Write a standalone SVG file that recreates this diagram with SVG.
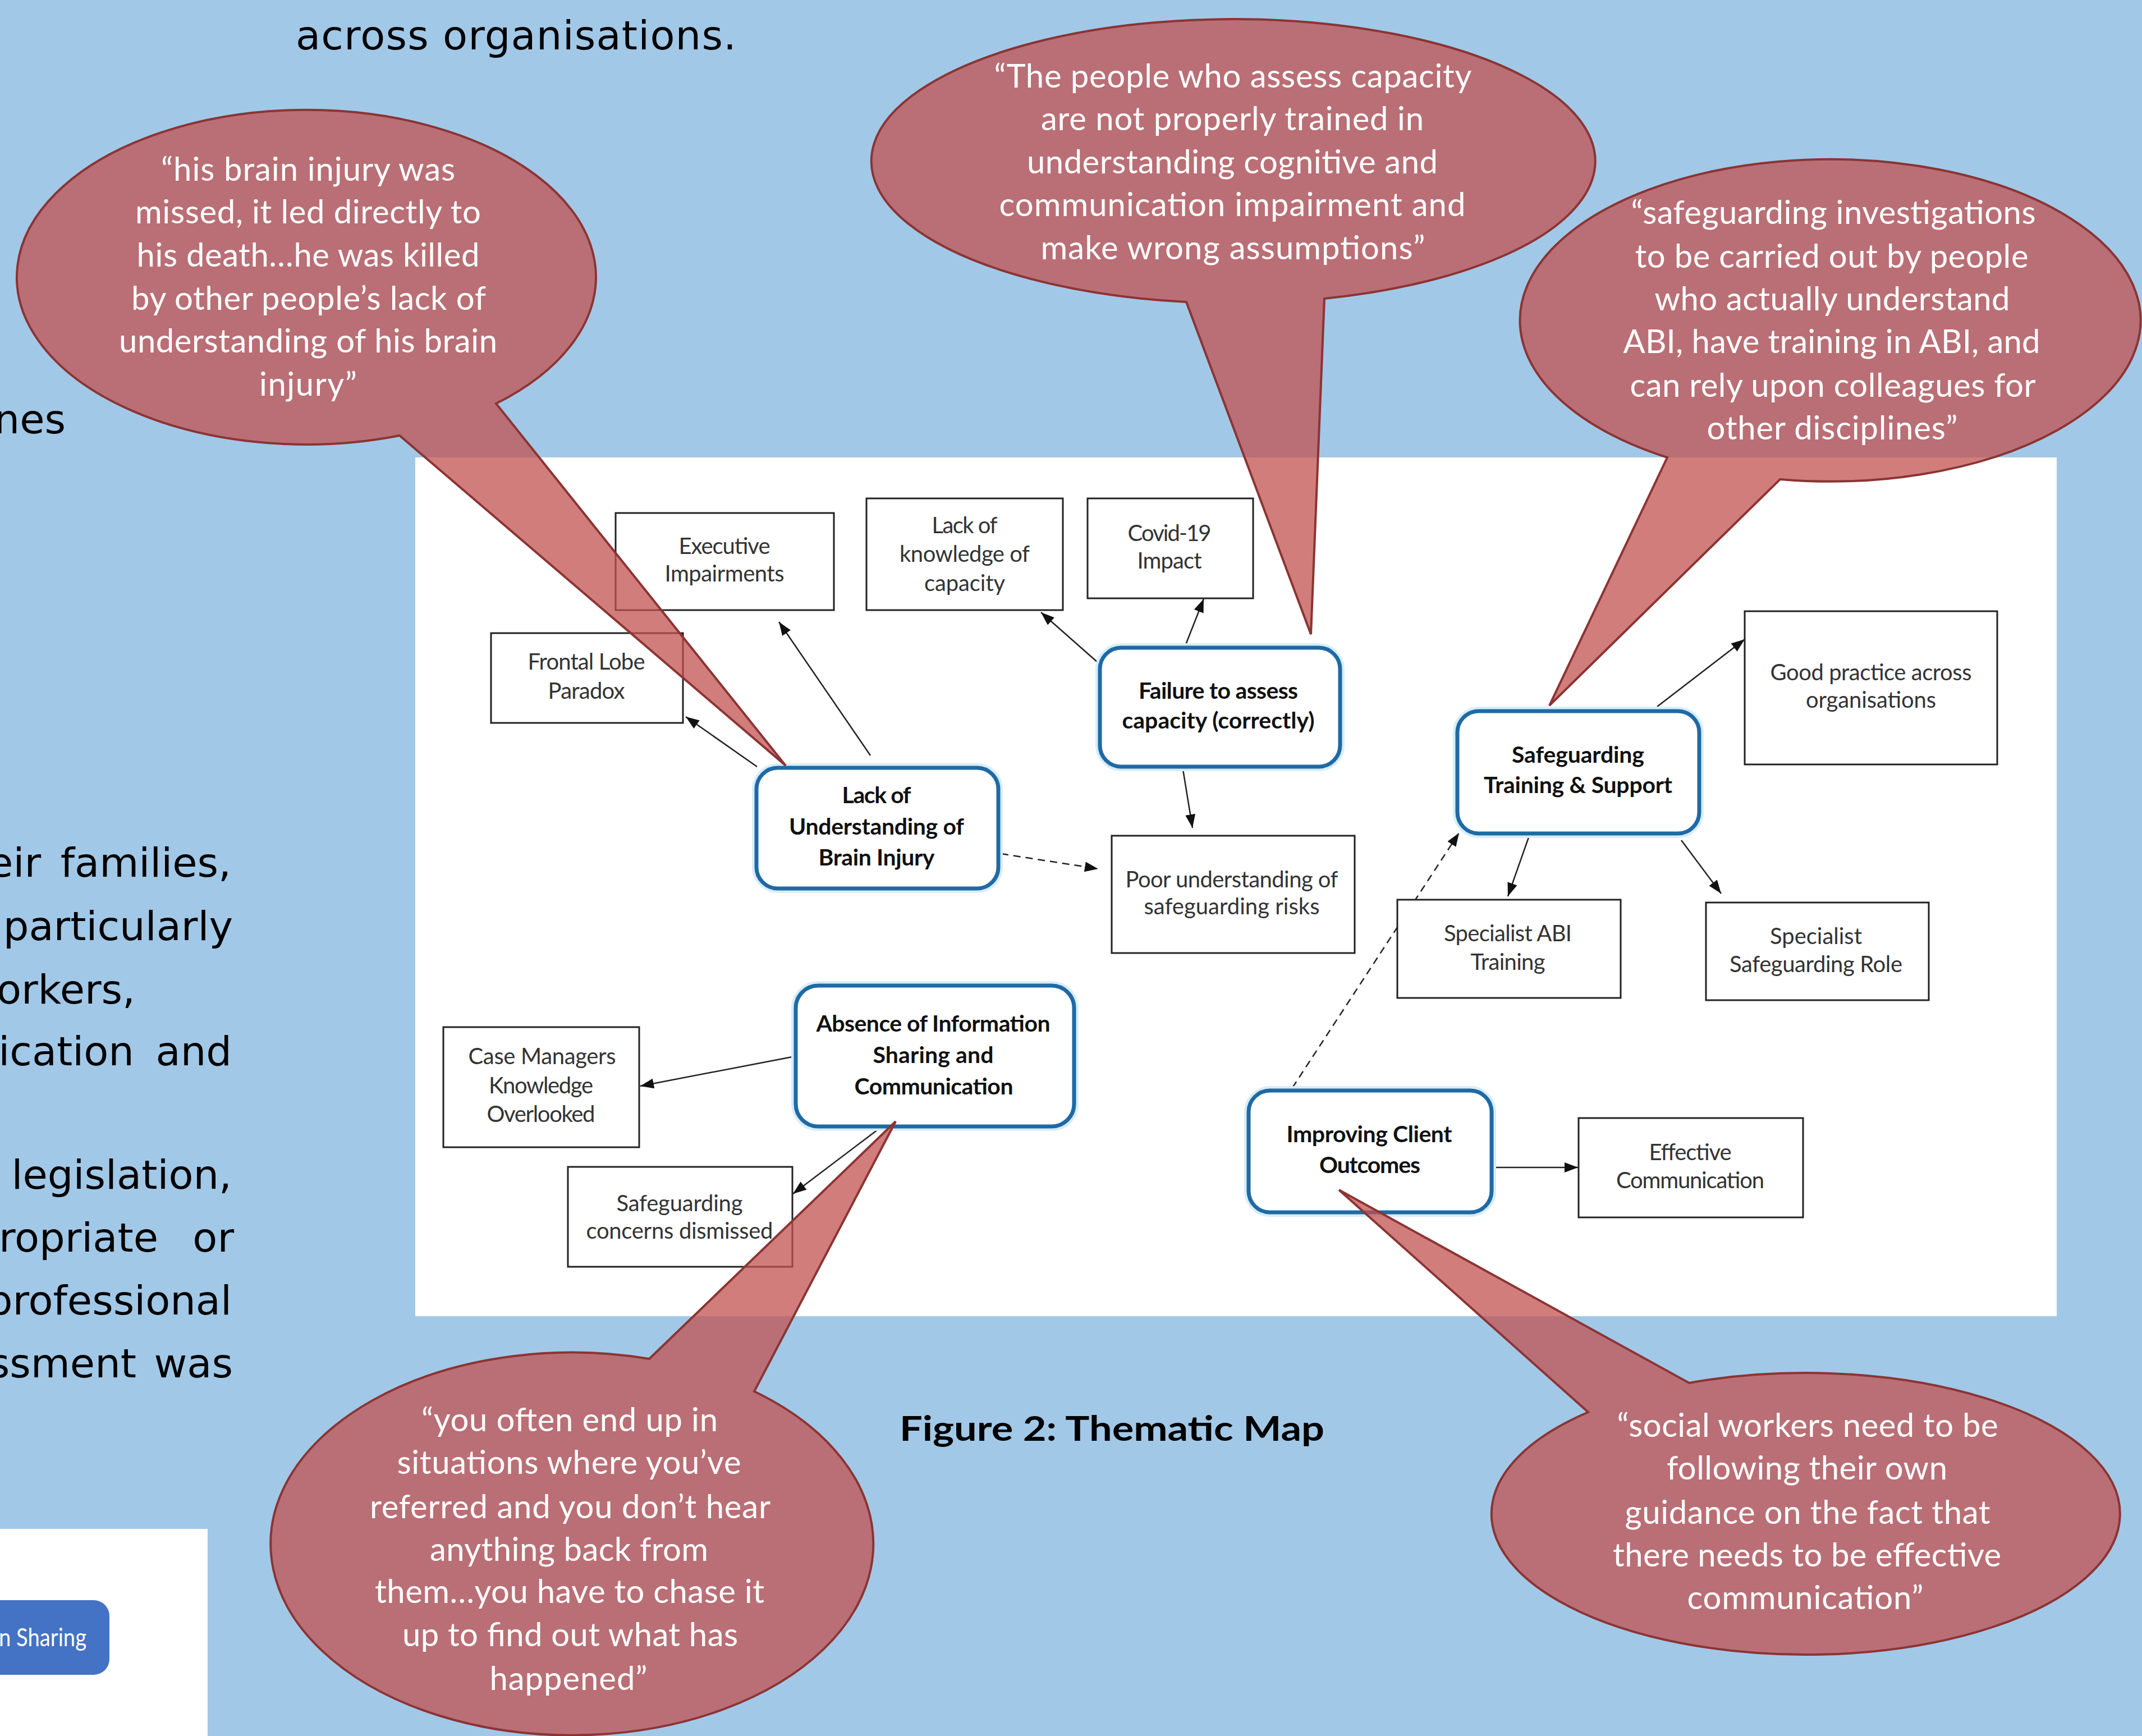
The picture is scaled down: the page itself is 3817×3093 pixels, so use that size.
<svg xmlns="http://www.w3.org/2000/svg" width="3817" height="3093" viewBox="0 0 3817 3093">
<defs>
<style>
.body{font-family:"DejaVu Sans","Liberation Sans",sans-serif;font-size:72px;fill:#000}
.leaf rect{fill:#fff;stroke:#222;stroke-width:3}
.leaf text{font-family:Lato,"Open Sans",sans-serif;font-size:40px;fill:#333;text-anchor:middle}
.main rect{fill:#fff;stroke:#1F6AA5;stroke-width:7}
.main rect.glow{fill:none;stroke:#d6eefa;stroke-width:16}
.main text{font-family:Lato,"Open Sans",sans-serif;font-weight:bold;font-size:41px;fill:#111;text-anchor:middle}
.conn line{stroke:#222;stroke-width:2.5;fill:none}
.conn line.dash{stroke-dasharray:13 9}
.bubble path{fill:#C14F4D;fill-opacity:0.74;stroke:#8B3434;stroke-width:4;stroke-linejoin:miter}
.btext{font-family:Lato,"Open Sans",sans-serif;font-size:58px;fill:#fff;text-anchor:middle}
</style>
<marker id="ah" markerUnits="userSpaceOnUse" markerWidth="24" markerHeight="18" viewBox="0 0 24 18" refX="24" refY="9" orient="auto">
<path d="M0,0 L24,9 L0,18 Z" fill="#111"/>
</marker>
</defs>

<rect x="0" y="0" width="3817" height="3093" fill="#A2C8E7"/>

<g id="page-text" class="body">
<text x="527" y="88" textLength="785" lengthAdjust="spacing">across organisations.</text>
<text x="117" y="772" text-anchor="end">nes</text>
<text x="73" y="1562" text-anchor="end">eir</text>
<text x="412" y="1562" text-anchor="end">families,</text>
<text x="415" y="1675" text-anchor="end">particularly</text>
<text x="241" y="1788" text-anchor="end">orkers,</text>
<text x="239" y="1898" text-anchor="end">ication</text>
<text x="413" y="1898" text-anchor="end">and</text>
<text x="413" y="2118" text-anchor="end">legislation,</text>
<text x="282" y="2230" text-anchor="end">ropriate</text>
<text x="417" y="2230" text-anchor="end">or</text>
<text x="413" y="2342" text-anchor="end">professional</text>
<text x="243" y="2454" text-anchor="end">ssment</text>
<text x="415" y="2454" text-anchor="end">was</text>
</g>

<g id="bottom-left-panel">
<rect x="0" y="2724" width="370" height="369" fill="#fff"/>
<rect x="-30" y="2851" width="225" height="133" rx="28" fill="#4472C4"/>
<text x="154" y="2933" text-anchor="end" textLength="156" lengthAdjust="spacingAndGlyphs" font-family="Lato,'Open Sans',sans-serif" font-size="44" fill="#fff">n Sharing</text>
</g>

<rect id="map-panel" x="740" y="815" width="2925" height="1530" fill="#fff"/>

<g id="connectors" class="conn">
<line x1="1349" y1="1366" x2="1222" y2="1277" marker-end="url(#ah)"/>
<line x1="1551" y1="1346" x2="1388" y2="1108" marker-end="url(#ah)"/>
<line x1="1957" y1="1181" x2="1855" y2="1091" marker-end="url(#ah)"/>
<line x1="2108" y1="1161" x2="2145" y2="1067" marker-end="url(#ah)"/>
<line x1="2108" y1="1371" x2="2125" y2="1475" marker-end="url(#ah)"/>
<line class="dash" x1="1784" y1="1521" x2="1957" y2="1548" marker-end="url(#ah)"/>
<line x1="2953" y1="1259" x2="3109" y2="1139" marker-end="url(#ah)"/>
<line x1="2724" y1="1492" x2="2687" y2="1597" marker-end="url(#ah)"/>
<line x1="2996" y1="1497" x2="3067" y2="1592" marker-end="url(#ah)"/>
<line class="dash" x1="2303" y1="1938" x2="2600" y2="1484" marker-end="url(#ah)"/>
<line x1="2659" y1="2080" x2="2812" y2="2080" marker-end="url(#ah)"/>
<line x1="1417" y1="1882" x2="1141" y2="1935" marker-end="url(#ah)"/>
<line x1="1573" y1="2006" x2="1413" y2="2127" marker-end="url(#ah)"/>
</g>

<g id="node-executive" class="leaf">
<rect x="1097" y="914" width="389" height="173"/>
<text x="1291" y="987" textLength="163">Executive</text>
<text x="1291" y="1036" textLength="213">Impairments</text>
</g>
<g id="node-frontal" class="leaf">
<rect x="875" y="1128" width="342" height="160"/>
<text x="1045" y="1193" textLength="209">Frontal Lobe</text>
<text x="1045" y="1245" textLength="137">Paradox</text>
</g>
<g id="node-lack-knowledge" class="leaf">
<rect x="1544" y="888" width="350" height="199"/>
<text x="1719" y="950" textLength="117">Lack of</text>
<text x="1719" y="1001" textLength="232">knowledge of</text>
<text x="1719" y="1053" textLength="144">capacity</text>
</g>
<g id="node-covid" class="leaf">
<rect x="1938" y="888" width="295" height="178"/>
<text x="2084" y="964" textLength="149">Covid-19</text>
<text x="2084" y="1013" textLength="115">Impact</text>
</g>
<g id="node-poor" class="leaf">
<rect x="1981" y="1489" width="433" height="209"/>
<text x="2195" y="1581" textLength="379">Poor understanding of</text>
<text x="2195" y="1629" textLength="313">safeguarding risks</text>
</g>
<g id="node-good-practice" class="leaf">
<rect x="3109" y="1089" width="450" height="273"/>
<text x="3334" y="1212" textLength="359">Good practice across</text>
<text x="3334" y="1261" textLength="232">organisations</text>
</g>
<g id="node-spec-abi" class="leaf">
<rect x="2490" y="1603" width="398" height="175"/>
<text x="2687" y="1677" textLength="228">Specialist ABI</text>
<text x="2687" y="1728" textLength="133">Training</text>
</g>
<g id="node-spec-role" class="leaf">
<rect x="3040" y="1608" width="397" height="174"/>
<text x="3236" y="1682" textLength="164">Specialist</text>
<text x="3236" y="1732" textLength="308">Safeguarding Role</text>
</g>
<g id="node-case-managers" class="leaf">
<rect x="790" y="1830" width="349" height="214"/>
<text x="966" y="1896" textLength="263">Case Managers</text>
<text x="964" y="1948" textLength="186">Knowledge</text>
<text x="964" y="1999" textLength="193">Overlooked</text>
</g>
<g id="node-sg-concerns" class="leaf">
<rect x="1012" y="2079" width="400" height="178"/>
<text x="1211" y="2158" textLength="225">Safeguarding</text>
<text x="1211" y="2207" textLength="333">concerns dismissed</text>
</g>
<g id="node-effective" class="leaf">
<rect x="2813" y="1992" width="400" height="177"/>
<text x="3012" y="2067" textLength="147">Effective</text>
<text x="3012" y="2117" textLength="264">Communication</text>
</g>

<g id="node-failure" class="main">
<rect class="glow" x="1960" y="1154" width="428" height="212" rx="38"/>
<rect x="1960" y="1154" width="428" height="212" rx="38"/>
<text x="2171" y="1245" textLength="284">Failure to assess</text>
<text x="2171" y="1298" textLength="343">capacity (correctly)</text>
</g>
<g id="node-lack-understanding" class="main">
<rect class="glow" x="1348" y="1368" width="431" height="215" rx="38"/>
<rect x="1348" y="1368" width="431" height="215" rx="38"/>
<text x="1562" y="1431" textLength="123">Lack of</text>
<text x="1562" y="1487" textLength="312">Understanding of</text>
<text x="1562" y="1542" textLength="207">Brain Injury</text>
</g>
<g id="node-safeguarding" class="main">
<rect class="glow" x="2597" y="1267" width="431" height="218" rx="38"/>
<rect x="2597" y="1267" width="431" height="218" rx="38"/>
<text x="2812" y="1359" textLength="236">Safeguarding</text>
<text x="2812" y="1413" textLength="336">Training &amp; Support</text>
</g>
<g id="node-absence" class="main">
<rect class="glow" x="1418" y="1756" width="496" height="251" rx="40"/>
<rect x="1418" y="1756" width="496" height="251" rx="40"/>
<text x="1663" y="1838" textLength="417">Absence of Information</text>
<text x="1663" y="1894" textLength="215">Sharing and</text>
<text x="1664" y="1950" textLength="283">Communication</text>
</g>
<g id="node-improving" class="main">
<rect class="glow" x="2225" y="1943" width="433" height="217" rx="38"/>
<rect x="2225" y="1943" width="433" height="217" rx="38"/>
<text x="2440" y="2035" textLength="295">Improving Client</text>
<text x="2441" y="2090" textLength="180">Outcomes</text>
</g>

<g id="bubble-brain-injury" class="bubble">
<path d="M712,776 A516,298 0 1 1 884,719 L1400,1364 Z"/>
<text class="btext" x="549" y="322" textLength="524">“his brain injury was</text>
<text class="btext" x="549" y="398" textLength="616">missed, it led directly to</text>
<text class="btext" x="549" y="475" textLength="611">his death…he was killed</text>
<text class="btext" x="550" y="552" textLength="632">by other people’s lack of</text>
<text class="btext" x="549" y="628" textLength="674">understanding of his brain</text>
<text class="btext" x="549" y="705" textLength="174">injury”</text>
</g>

<g id="bubble-capacity" class="bubble">
<path d="M2114,538 A645,253 0 1 1 2360,532 L2336,1130 Z"/>
<text class="btext" x="2197" y="156" textLength="851">“The people who assess capacity</text>
<text class="btext" x="2196" y="232" textLength="682">are not properly trained in</text>
<text class="btext" x="2196" y="309" textLength="732">understanding cognitive and</text>
<text class="btext" x="2196" y="385" textLength="831">communication impairment and</text>
<text class="btext" x="2197" y="462" textLength="685">make wrong assumptions”</text>
</g>

<g id="bubble-safeguarding" class="bubble">
<path d="M2971,815 A553,287 0 1 1 3172,854 L2761,1257 Z"/>
<text class="btext" x="3267" y="399" textLength="721">“safeguarding investigations</text>
<text class="btext" x="3264" y="477" textLength="701">to be carried out by people</text>
<text class="btext" x="3265" y="553" textLength="633">who actually understand</text>
<text class="btext" x="3264" y="629" textLength="743">ABI, have training in ABI, and</text>
<text class="btext" x="3266" y="707" textLength="723">can rely upon colleagues for</text>
<text class="btext" x="3265" y="783" textLength="447">other disciplines”</text>
</g>

<g id="bubble-information" class="bubble">
<path d="M1344,2479 A537,341 0 1 1 1157,2421 L1596,1998 Z"/>
<text class="btext" x="1015" y="2550" textLength="528">“you often end up in</text>
<text class="btext" x="1014" y="2626" textLength="613">situations where you’ve</text>
<text class="btext" x="1016" y="2705" textLength="714">referred and you don’t hear</text>
<text class="btext" x="1014" y="2781" textLength="496">anything back from</text>
<text class="btext" x="1015" y="2856" textLength="694">them…you have to chase it</text>
<text class="btext" x="1016" y="2933" textLength="598">up to find out what has</text>
<text class="btext" x="1013" y="3011" textLength="281">happened”</text>
</g>

<g id="bubble-communication" class="bubble">
<path d="M3010,2464 A560,251 0 1 1 2830,2516 L2386,2120 Z"/>
<text class="btext" x="3221" y="2560" textLength="679">“social workers need to be</text>
<text class="btext" x="3220" y="2636" textLength="500">following their own</text>
<text class="btext" x="3221" y="2715" textLength="651">guidance on the fact that</text>
<text class="btext" x="3220" y="2791" textLength="692">there needs to be effective</text>
<text class="btext" x="3217" y="2867" textLength="421">communication”</text>
</g>

<text id="caption" x="1603" y="2567" textLength="757" lengthAdjust="spacingAndGlyphs" font-family="Lato,'Open Sans',sans-serif" font-weight="bold" font-size="62" fill="#000">Figure 2: Thematic Map</text>
</svg>
